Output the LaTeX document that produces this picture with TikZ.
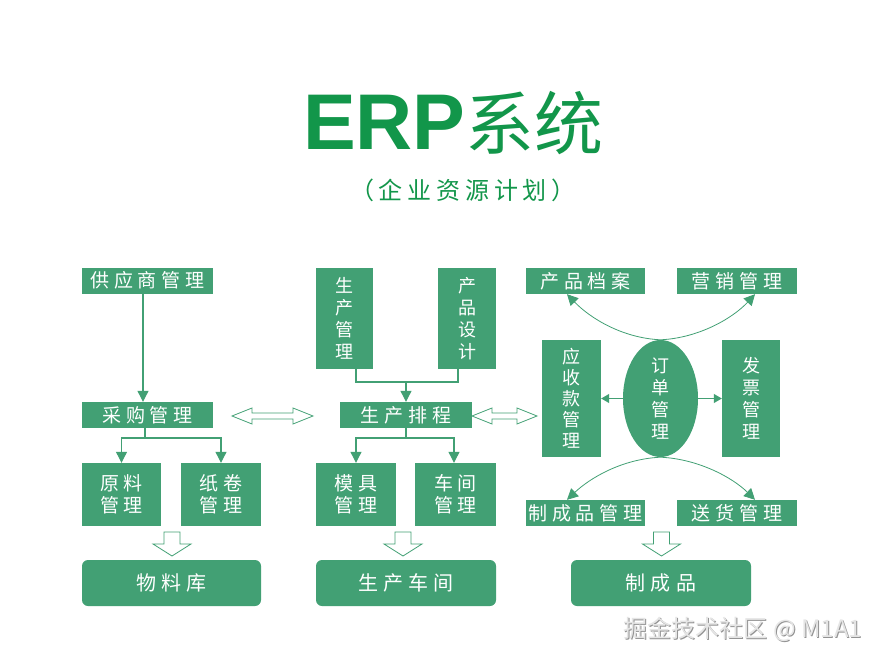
\documentclass[tikz,border=0pt]{standalone}
\usepackage{fontspec}
\setmainfont{Liberation Sans}
\newfontfamily\cjk[LetterSpace=26]{Noto Sans CJK SC}
\newfontfamily\cjkplain{Noto Sans CJK SC}
\newfontfamily\cjksub[LetterSpace=20]{Noto Sans CJK SC}
\usetikzlibrary{arrows.meta,calc,shapes.geometric}
\definecolor{boxg}{RGB}{66,160,116}
\definecolor{titleg}{RGB}{18,150,74}
\tikzset{
  box/.style={fill=boxg, draw=none, inner sep=0pt, text=white, font=\cjk\fontsize{19}{22}\selectfont, align=center},
  vbox/.style={box, font=\cjkplain\fontsize{18}{22}\selectfont},
  conn/.style={draw=boxg, line width=1.1pt},
  curv/.style={draw=boxg, line width=0.8pt},
  tip/.style={-{Triangle[length=11pt,width=11pt]}},
  smalltip/.style={-{Triangle[length=8pt,width=9pt]}},
  hollow/.style={draw=boxg, fill=white, line width=0.8pt, line join=miter},
}
\begin{document}
\begin{tikzpicture}[x=1pt,y=-1pt]
\fill[white] (0,0) rectangle (888,663);
\useasboundingbox (0,0) rectangle (888,663);

% title
\node[anchor=base west, inner sep=0pt, text=titleg, font=\fontsize{79}{82}\selectfont\bfseries] (title) at (303,150) {ERP{\cjkplain\mdseries\fontsize{69}{72}\selectfont 系统}};
\node[inner sep=0pt, text=titleg, font=\cjksub\fontsize{24}{28}\selectfont] (subtitle) at (463,190) {（企业资源计划）};

% left column
\node[box, minimum width=131pt, minimum height=26pt] (sup) at (147.5,280.5) {供应商管理};
\node[box, minimum width=131pt, minimum height=26pt] (pur) at (147.5,415) {采购管理};
\node[box, minimum width=79pt, minimum height=63pt] (raw) at (121.5,494.5) {原料\\管理};
\node[box, minimum width=80pt, minimum height=63pt] (paper) at (221,494.5) {纸卷\\管理};
\node[box, minimum width=179pt, minimum height=46pt, rounded corners=6pt, font=\cjk\fontsize{20}{22}\selectfont] (mat) at (171.5,583) {物料库};

% middle column
\node[vbox, minimum width=57pt, minimum height=101pt] (pm) at (344.5,318.5) {生\\产\\管\\理};
\node[vbox, minimum width=58pt, minimum height=101pt] (pd) at (467,318.5) {产\\品\\设\\计};
\node[box, minimum width=132pt, minimum height=26pt] (ps) at (406,415) {生产排程};
\node[box, minimum width=80pt, minimum height=63pt] (mold) at (356,494.5) {模具\\管理};
\node[box, minimum width=81pt, minimum height=63pt] (ws) at (455.5,494.5) {车间\\管理};
\node[box, minimum width=180pt, minimum height=46pt, rounded corners=6pt, font=\cjk\fontsize{20}{22}\selectfont] (plant) at (406,583) {生产车间};

% right column
\node[box, minimum width=119pt, minimum height=26pt] (pa) at (585.5,281) {产品档案};
\node[box, minimum width=120pt, minimum height=26pt] (mk) at (737,281) {营销管理};
\node[vbox, minimum width=59pt, minimum height=117pt, font=\cjkplain\fontsize{18}{21}\selectfont] (ar) at (571.5,398.5) {应\\收\\款\\管\\理};
\node[vbox, ellipse, minimum width=75pt, minimum height=117pt] (ord) at (660.5,398.5) {订\\单\\管\\理};
\node[vbox, minimum width=58pt, minimum height=117pt] (inv) at (751,398.5) {发\\票\\管\\理};
\node[box, minimum width=119pt, minimum height=26pt] (fpm) at (585.5,513) {制成品管理};
\node[box, minimum width=120pt, minimum height=26pt] (dl) at (737,513) {送货管理};
\node[box, minimum width=180pt, minimum height=46pt, rounded corners=6pt, font=\cjk\fontsize{20}{22}\selectfont] (fp) at (661,583) {制成品};

% left connectors
\draw[conn, tip] ([xshift=-4.5pt]sup.south) -- ([xshift=-4.5pt]pur.north);
\coordinate (j1) at (145,438);
\draw[conn] ([xshift=-2.5pt]pur.south) -- (j1);
\draw[conn, tip] (j1) -| (raw.north);
\draw[conn, tip] (j1) -| (paper.north);

% middle connectors
\coordinate (j2) at (406,382);
\draw[conn] ([xshift=11.5pt]pm.south) |- (j2);
\draw[conn] ([xshift=-9pt]pd.south) |- (j2);
\draw[conn, tip] (j2) -- (ps.north);
\coordinate (j3) at (406,438);
\draw[conn] (ps.south) -- (j3);
\draw[conn, tip] (j3) -| (mold.north);
\draw[conn, tip] (j3) -| ([xshift=-1.5pt]ws.north);

% right connectors
\draw[curv, tip] (ord.north) .. controls (622,338) and (590,318) .. ([xshift=-18.5pt]pa.south);
\draw[curv, tip] (ord.north) .. controls (699,338) and (733,318) .. ([xshift=18pt]mk.south);
\draw[curv, tip] (ord.south) .. controls (622,459) and (590,478) .. ([xshift=-18.5pt]fpm.north);
\draw[curv, tip] (ord.south) .. controls (699,459) and (733,478) .. ([xshift=18pt]dl.north);
\draw[conn, smalltip] (ord.west) -- (ar.east);
\draw[conn, smalltip] (ord.east) -- (inv.west);

% hollow double arrows
\draw[hollow, shift={(232,416)}] (0,0) -- (20,-8) -- (20,-3) -- (61,-3) -- (61,-8) -- (81,0) -- (61,8) -- (61,3) -- (20,3) -- (20,8) -- cycle;
\draw[hollow, shift={(472,416)}] (0,0) -- (20,-8) -- (20,-3) -- (45,-3) -- (45,-8) -- (65,0) -- (45,8) -- (45,3) -- (20,3) -- (20,8) -- cycle;

% hollow down arrows
\foreach \cx in {172,403,661.5}{
  \draw[hollow, shift={(\cx,532)}] (-8,0) -- (8,0) -- (8,12) -- (19,12) -- (0,24) -- (-19,12) -- (-8,12) -- cycle;
}

% watermark
\node[inner sep=0pt, text=gray!85, font=\cjkplain\fontsize{24}{26}\selectfont] (wms) at (744,630) {掘金技术社区 @ M1A1};
\node[inner sep=0pt, text=gray!20, font=\cjkplain\fontsize{24}{26}\selectfont] (wm) at (743,629) {掘金技术社区 @ M1A1};
\end{tikzpicture}
\end{document}
